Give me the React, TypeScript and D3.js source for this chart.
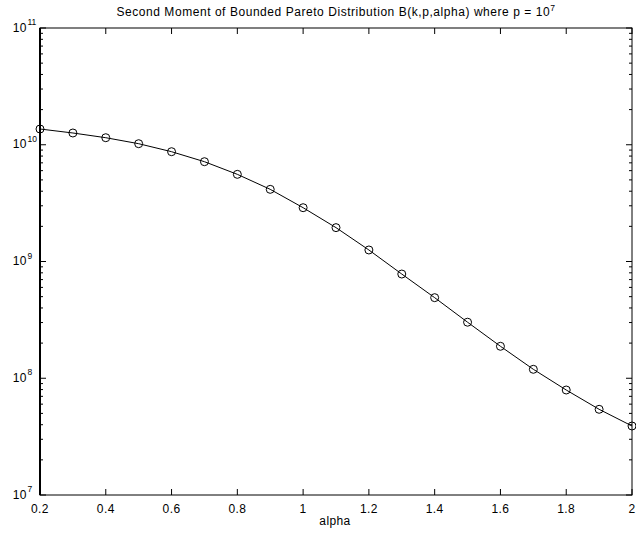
import React from "react";
import * as d3 from "d3";

const alphaValues = [0.2, 0.3, 0.4, 0.5, 0.6, 0.7, 0.8, 0.9, 1.0, 1.1, 1.2, 1.3, 1.4, 1.5, 1.6, 1.7, 1.8, 1.9, 2.0];
const momentValues = [1.364e10, 1.261e10, 1.149e10, 1.021e10, 8.72e9, 7.16e9, 5.58e9, 4.15e9, 2.89e9, 1.95e9, 1.255e9, 7.81e8, 4.9e8, 3.02e8, 1.878e8, 1.193e8, 7.93e7, 5.42e7, 3.9e7];
const xTicks = [0.2, 0.4, 0.6, 0.8, 1, 1.2, 1.4, 1.6, 1.8, 2];
const yDecadeExps = [7, 8, 9, 10, 11];
const titleText = "Second Moment of Bounded Pareto Distribution B(k,p,alpha) where p = 10";
const titleExp = "7";
const xLabel = "alpha";

export default function App() {
  const W = 636, H = 533;
  const left = 40, right = 632, top = 28, bottom = 495;
  const x = d3.scaleLinear().domain([0.2, 2]).range([left, right]);
  const y = d3.scaleLog().domain([1e7, 1e11]).range([bottom, top]);
  const pts = alphaValues.map((a, i) => [a, momentValues[i]] as [number, number]);
  const line = d3.line<[number, number]>().x(d => x(d[0])).y(d => y(d[1]));
  const font = "'Liberation Sans', Arial, Helvetica, sans-serif";

  const minorTicks: number[] = [];
  for (let e = 7; e < 11; e++) {
    for (let m = 2; m <= 9; m++) minorTicks.push(m * Math.pow(10, e));
  }

  return (
    <svg width={W} height={H} style={{ position: "absolute", left: 0, top: 0, background: "#fff" }} fontFamily={font}>
      <rect x={0} y={0} width={W} height={H} fill="#fff" />
      <rect x={left} y={top} width={right - left} height={bottom - top} fill="none" stroke="#000" strokeWidth={1} />
      <line x1={left} x2={left} y1={top} y2={bottom} stroke="#000" strokeWidth={2} />
      {xTicks.map((t, i) => (
        <g key={"xt" + i}>
          <line x1={x(t)} x2={x(t)} y1={bottom} y2={bottom - 6} stroke="#000" />
          <line x1={x(t)} x2={x(t)} y1={top} y2={top + 6} stroke="#000" />
          <text x={x(t)} y={513} fontSize={12} letterSpacing={0.4} textAnchor="middle" fill="#000">{String(t)}</text>
        </g>
      ))}
      {yDecadeExps.map((e, i) => {
        const yy = y(Math.pow(10, e));
        return (
          <g key={"yt" + i}>
            <line x1={left} x2={left + 6} y1={yy} y2={yy} stroke="#000" />
            <line x1={right} x2={right - 6} y1={yy} y2={yy} stroke="#000" />
            <text x={27} y={yy + 3.5} fontSize={12} letterSpacing={0.5} textAnchor="end" fill="#000">10</text>
            <text x={27.5} y={yy - 3} fontSize={8.5} textAnchor="start" fill="#000">{String(e)}</text>
          </g>
        );
      })}
      {minorTicks.map((v, i) => (
        <g key={"ym" + i}>
          <line x1={left} x2={left + 3} y1={y(v)} y2={y(v)} stroke="#000" />
          <line x1={right} x2={right - 3} y1={y(v)} y2={y(v)} stroke="#000" />
        </g>
      ))}
      <path d={line(pts) || ""} fill="none" stroke="#000" strokeWidth={1} />
      {pts.map((d, i) => (
        <circle key={"c" + i} cx={x(d[0])} cy={y(d[1])} r={4} fill="none" stroke="#000" strokeWidth={1} />
      ))}
      <text x={336} y={16} fontSize={12} letterSpacing={0.55} textAnchor="middle" fill="#000">
        {titleText}
        <tspan fontSize={8.5} dy={-5}>{titleExp}</tspan>
      </text>
      <text x={335} y={525} fontSize={12} letterSpacing={0.4} textAnchor="middle" fill="#000">{xLabel}</text>
    </svg>
  );
}
